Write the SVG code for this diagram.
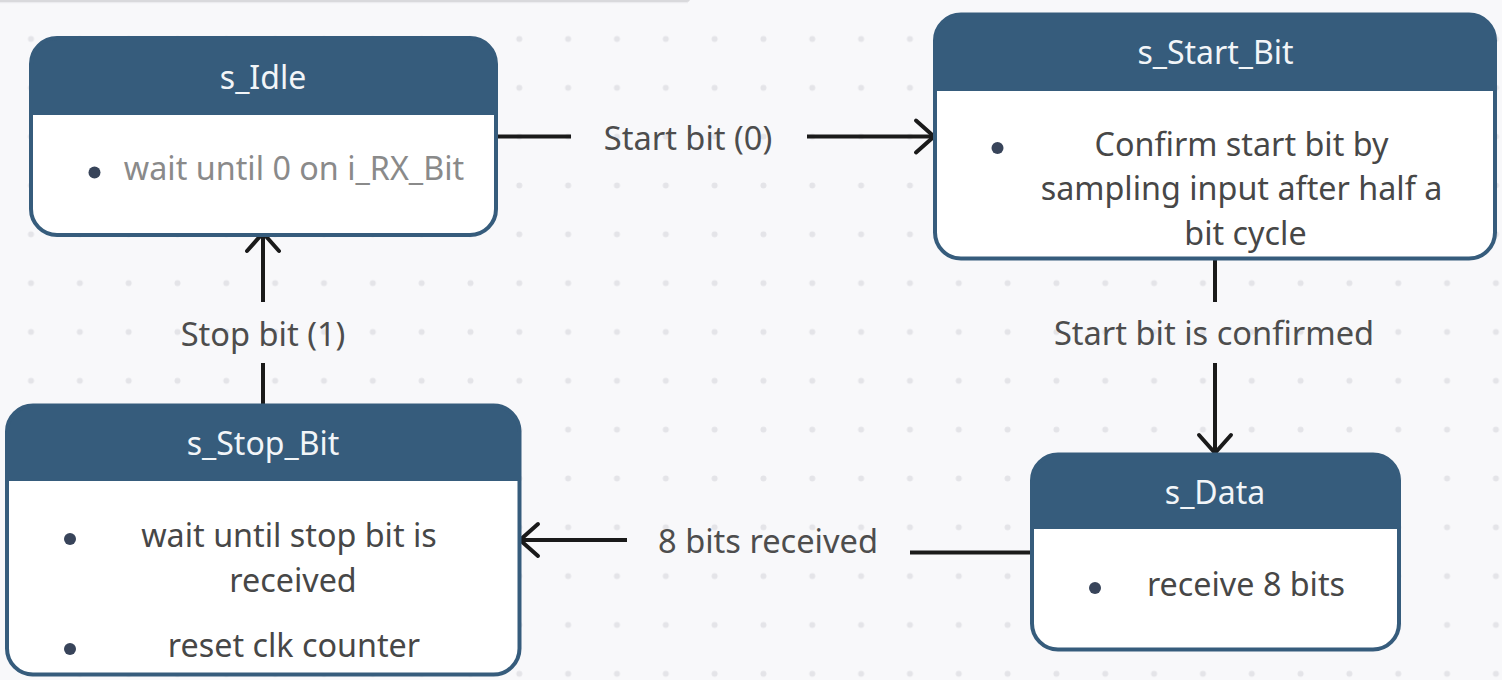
<svg xmlns="http://www.w3.org/2000/svg" width="1502" height="680" viewBox="0 0 1502 680">
<defs>
<pattern id="grid" patternUnits="userSpaceOnUse" x="6.585" y="14.585" width="48.83" height="48.83">
<circle cx="24.415" cy="24.415" r="3" fill="#e4e4e8"/>
</pattern>
<marker id="arrow" markerUnits="userSpaceOnUse" viewBox="-24 -20 28 40" refX="0" refY="0" markerWidth="28" markerHeight="40" orient="auto">
<path d="M-18,-16 L0,0 L-18,16" fill="none" stroke="#1a1a1a" stroke-width="4" stroke-linecap="round" stroke-linejoin="miter"/>
</marker>
<style>
.bg{fill:#f8f8fa}
.body{fill:#ffffff}
.hdr{fill:#365c7c}
.frame{fill:none;stroke:#365c7c;stroke-width:4}
.title{font-family:"Noto Sans","Open Sans",sans-serif;font-size:32px;fill:#f2f5f8;text-anchor:middle}
.txt{font-family:"Noto Sans","Open Sans",sans-serif;font-size:32.3px;fill:#474747;text-anchor:middle}
.muted{fill:#8a8a8a}
.bullet{fill:#38445a}
.edge{fill:none;stroke:#1a1a1a;stroke-width:4}
.lbl{font-family:"Noto Sans","Open Sans",sans-serif;font-size:32.6px;fill:#4d4d4d;text-anchor:middle}
</style>
</defs>
<rect class="bg" x="0" y="0" width="1502" height="680"/>
<rect x="0" y="0" width="1502" height="680" fill="url(#grid)"/>
<rect x="-10" y="-10" width="700" height="12" rx="3" fill="#d9d9dc"/>
<rect x="0" y="2" width="688" height="1.2" fill="#ececef"/>

<g id="connectors">
<line class="edge" x1="497" y1="136.5" x2="571" y2="136.5"/>
<line class="edge" x1="807" y1="136.5" x2="934" y2="136.5" marker-end="url(#arrow)"/>
<text class="lbl" x="688" y="150">Start bit (0)</text>

<line class="edge" x1="1215" y1="258" x2="1215" y2="302"/>
<line class="edge" x1="1215" y1="363" x2="1215" y2="453" marker-end="url(#arrow)"/>
<text class="lbl" x="1214" y="345">Start bit is confirmed</text>

<line class="edge" x1="1033" y1="552.5" x2="910" y2="552.5"/>
<line class="edge" x1="627" y1="540" x2="520" y2="540" marker-end="url(#arrow)"/>
<text class="lbl" x="768" y="553">8 bits received</text>

<line class="edge" x1="263" y1="404" x2="263" y2="363"/>
<line class="edge" x1="263" y1="302" x2="263" y2="233" marker-end="url(#arrow)"/>
<text class="lbl" x="263" y="346">Stop bit (1)</text>
</g>

<g id="s_Idle">
<rect class="body" x="31" y="38" width="465" height="197" rx="26"/>
<path class="hdr" d="M31,115 V64 A26,26 0 0 1 57,38 H470 A26,26 0 0 1 496,64 V115 Z"/>
<rect class="frame" x="31" y="38" width="465" height="197" rx="26"/>
<text class="title" x="263" y="89">s_Idle</text>
<circle class="bullet" cx="94.5" cy="172.5" r="6"/>
<text class="txt muted" x="294" y="180">wait until 0 on i_RX_Bit</text>
</g>

<g id="s_Start_Bit">
<rect class="body" x="935" y="14.5" width="560" height="244" rx="26"/>
<path class="hdr" d="M935,91 V40.5 A26,26 0 0 1 961,14.5 H1469 A26,26 0 0 1 1495,40.5 V91 Z"/>
<rect class="frame" x="935" y="14.5" width="560" height="244" rx="26"/>
<text class="title" x="1215.5" y="64">s_Start_Bit</text>
<circle class="bullet" cx="997.5" cy="148" r="6"/>
<text class="txt" x="1241.5" y="156">Confirm start bit by</text>
<text class="txt" x="1241.5" y="200">sampling input after half a</text>
<text class="txt" x="1245.5" y="245">bit cycle</text>
</g>

<g id="s_Data">
<rect class="body" x="1032" y="454.5" width="367" height="195" rx="26"/>
<path class="hdr" d="M1032,529 V480.5 A26,26 0 0 1 1058,454.5 H1373 A26,26 0 0 1 1399,480.5 V529 Z"/>
<rect class="frame" x="1032" y="454.5" width="367" height="195" rx="26"/>
<text class="title" x="1215" y="504">s_Data</text>
<circle class="bullet" cx="1095" cy="588" r="6"/>
<text class="txt" x="1246" y="596">receive 8 bits</text>
</g>

<g id="s_Stop_Bit">
<rect class="body" x="7" y="405.5" width="512.5" height="269" rx="26"/>
<path class="hdr" d="M7,481 V431.5 A26,26 0 0 1 33,405.5 H493.5 A26,26 0 0 1 519.5,431.5 V481 Z"/>
<rect class="frame" x="7" y="405.5" width="512.5" height="269" rx="26"/>
<text class="title" x="263" y="455">s_Stop_Bit</text>
<circle class="bullet" cx="70" cy="539" r="6"/>
<text class="txt" x="289" y="547">wait until stop bit is</text>
<text class="txt" x="293" y="592">received</text>
<circle class="bullet" cx="70" cy="649" r="6"/>
<text class="txt" x="294" y="657">reset clk counter</text>
</g>
</svg>
